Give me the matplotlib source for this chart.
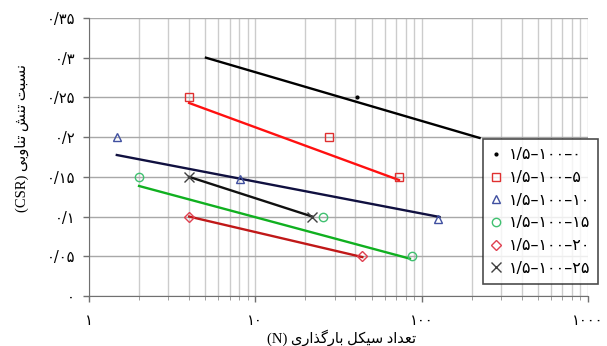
import matplotlib
matplotlib.use('Agg')
import matplotlib.pyplot as plt
from matplotlib.ticker import FixedLocator, LogLocator, NullFormatter

# persian digits
P = dict(zip('0123456789', '\u06f0\u06f1\u06f2\u06f3\u06f4\u06f5\u06f6\u06f7\u06f8\u06f9'))

def fa(s):
    return ''.join(P.get(c, c) for c in s)

def vis(chars):
    # chars are presentation forms in logical order, matplotlib draws LTR
    return ''.join(reversed(chars))

# words, shaped by hand
w_tedad = ['\ufe97', '\ufecc', '\ufeaa', '\ufe8d', '\ufea9']
w_cycle = ['\ufeb3', '\ufef4', '\ufedc', '\ufede']
w_bargozari = ['\ufe91', '\ufe8e', '\ufead', '\ufb94', '\ufeac', '\ufe8d', '\ufead', '\ufeef']
w_nesbat = ['\ufee7', '\ufeb4', '\ufe92', '\ufe96']
w_tanesh = ['\ufe97', '\ufee8', '\ufeb6']
w_tanavobi = ['\ufe97', '\ufee8', '\ufe8e', '\ufeed', '\ufe91', '\ufef0']

# right-to-left: the last word ends up on the left
xlabel = '(N) ' + vis(w_bargozari) + ' ' + vis(w_cycle) + ' ' + vis(w_tedad)
ylabel = '(CSR) ' + vis(w_tanavobi) + ' ' + vis(w_tanesh) + ' ' + vis(w_nesbat)

labels = ['1/5\u2013100\u20130', '1/5\u2013100\u20135', '1/5\u2013100\u201310',
          '1/5\u2013100\u201315', '1/5\u2013100\u201320', '1/5\u2013100\u201325']

# data points
pts_N = [[41], [4, 27.6, 73], [1.47, 8.1, 125], [2, 25.4, 87], [4, 44], [4, 22]]
pts_csr = [[0.25], [0.25, 0.2, 0.15], [0.2, 0.147, 0.097], [0.15, 0.1, 0.05], [0.1, 0.05], [0.15, 0.1]]

# trend lines (end points)
line_N = [[5.05, 223], [4, 73], [1.47, 128], [2, 85], [4, 44], [4, 22]]
line_csr = [[0.3, 0.199], [0.243, 0.146], [0.1775, 0.0995], [0.1385, 0.047], [0.1, 0.049], [0.15, 0.1]]

line_col = ['#000000', '#ff1010', '#101040', '#10b020', '#c01818', '#101010']
mark_col = ['#000000', '#e03030', '#4050a0', '#40c070', '#e04050', '#404040']
markers = ['.', 's', '^', 'o', 'D', 'x']
msizes = [4, 6, 6, 6, 5, 7]

yticks = [0, 0.05, 0.1, 0.15, 0.2, 0.25, 0.3, 0.35]
ytick_lbl = ['0', '0/05', '0/1', '0/15', '0/2', '0/25', '0/3', '0/35']
xticks = [1, 10, 100, 1000]

plt.rcParams['font.family'] = ['DejaVu Sans', 'Noto Sans']

fig = plt.figure(figsize=(6.07, 3.46), dpi=100)
ax = fig.add_axes([0.1466, 0.1445, 0.8221, 0.8035])

for i in range(6):
    ax.plot(line_N[i], line_csr[i], color=line_col[i], lw=1.7, zorder=3)
    ax.plot(pts_N[i], pts_csr[i], ls='none', marker=markers[i], ms=msizes[i],
            mfc='none' if markers[i] not in ['.', 'x'] else mark_col[i],
            mec=mark_col[i], mew=1.0, zorder=4, label=fa(labels[i]))

ax.set_xscale('log')
ax.set_xlim(1, 1000)
ax.set_ylim(0, 0.35)
ax.xaxis.set_major_locator(FixedLocator(xticks))
ax.xaxis.set_minor_locator(LogLocator(base=10, subs=range(2, 10)))
ax.xaxis.set_minor_formatter(NullFormatter())
ax.set_xticks(xticks)
ax.set_xticklabels([fa(str(v)) for v in xticks], fontsize=10.5)
ax.set_yticks(yticks)
ax.set_yticklabels([fa(s) for s in ytick_lbl], fontsize=10.5)

ax.grid(True, which='major', axis='y', color='#a8a8a8', lw=1.0)
ax.grid(True, which='both', axis='x', color='#cccccc', lw=1.0)
ax.set_axisbelow(True)

for s in ['top', 'right']:
    ax.spines[s].set_visible(False)
for s in ['left', 'bottom']:
    ax.spines[s].set_color('#707070')
ax.tick_params(axis='both', which='major', length=4, color='#707070', width=1)
ax.tick_params(axis='x', which='major', pad=8)
ax.tick_params(axis='x', which='minor', length=3, color='#909090')
ax.tick_params(axis='y', pad=6)

fig.text(0.562, 0.025, xlabel, ha='center', va='center', fontsize=10.5,
         family=['Liberation Serif', 'DejaVu Sans'])
fig.text(0.036, 0.6, ylabel, ha='center', va='center', rotation=90, fontsize=10.5,
         family=['Liberation Serif', 'DejaVu Sans'])

leg = ax.legend(loc='upper left', bbox_to_anchor=(0.796, 0.597), bbox_transform=fig.transFigure,
                fontsize=11.5, frameon=True, fancybox=False, edgecolor='#202020',
                labelspacing=0.48, handlelength=0.6, handletextpad=0.5, borderpad=0.5,
                borderaxespad=0)
leg.get_frame().set_linewidth(1.2)
leg.set_zorder(6)

fig.savefig('out.png', dpi=100)
